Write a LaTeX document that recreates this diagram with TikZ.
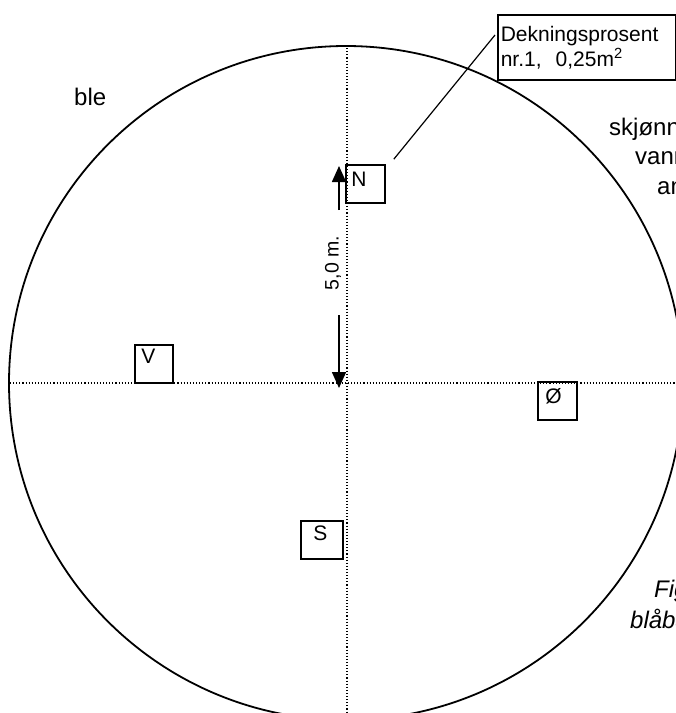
\documentclass[tikz,border=0pt]{standalone}
\usepackage{fontspec}
\setmainfont{Liberation Sans}
\usetikzlibrary{arrows.meta}
\tikzset{
	rute/.style={draw, line width=1.6pt, minimum width=38pt, minimum height=38pt, inner sep=0pt},
	bokstav/.style={anchor=north west, inner sep=0pt, font=\fontsize{21}{24}\selectfont},
	akse/.style={line width=1.2pt, dash pattern=on 1.1pt off 2pt},
	pil/.style={line width=1.6pt, -{Triangle[length=16pt,width=14pt]}},
	tekst/.style={anchor=base west, inner sep=0pt, font=\fontsize{24}{28}\selectfont}
}
\begin{document}
\begin{tikzpicture}[x=1pt,y=1pt]
	\useasboundingbox (0,0) rectangle (676,-713);
	\clip (0,0) rectangle (676,-713);
	\coordinate (sentrum) at (346,-383);
	\draw[line width=1.8pt] (sentrum) circle (337pt);
	\draw[akse] (10,-383) -- (676,-383);
	\draw[akse] (347,-45) -- (347,-713);
	\node[rute, minimum width=39pt] (n) at (365.5,-184) {};
	\node[rute] (v) at (154,-364) {};
	\node[rute, minimum width=39pt] (oe) at (557.5,-401) {};
	\node[rute, minimum width=42pt] (s) at (322,-540) {};
	\node[bokstav] (nt) at ([shift={(6,-8)}]n.north west) {N};
	\node[bokstav] (vt) at ([shift={(7,-5)}]v.north west) {V};
	\node[bokstav] (oet) at ([shift={(8,-7)}]oe.north west) {Ø};
	\node[bokstav] (st) at ([shift={(13,-5)}]s.north west) {S};
	\node[draw, line width=1.6pt, anchor=north west, minimum width=178pt, minimum height=65pt, text width=172pt, inner sep=3pt, align=left, font=\fontsize{21}{25}\selectfont] (dek) at (497,-14) {Dekningsprosent\\nr.1,\ \ 0,25m\textsuperscript{2}};
	\draw[line width=1.2pt] ([shift={(-2,-21)}]dek.north west) -- ([shift={(8,5)}]n.north east);
	\node[rotate=90, inner sep=0pt, font=\fontsize{19.5}{22}\selectfont] (maal) at (333,-263) {5,0 m.};
	\coordinate (pilopp) at (339,-166);
	\coordinate (pilned) at (339,-388);
	\draw[pil] (339,-210) -- (pilopp);
	\draw[pil] (339,-315) -- (pilned);
	\node[tekst] (ble) at (74,-105) {ble};
	\node[tekst] (t1) at (609,-135) {skjønnsmessig};
	\node[tekst] (t2) at (635,-164) {vann};
	\node[tekst] (t3) at (657,-194) {an};
	\node[tekst, font=\fontsize{24}{28}\selectfont\itshape] (fig) at (654,-597) {Figur};
	\node[tekst, font=\fontsize{24}{28}\selectfont\itshape] (blaa) at (630,-628) {blåbær};
\end{tikzpicture}
\end{document}
